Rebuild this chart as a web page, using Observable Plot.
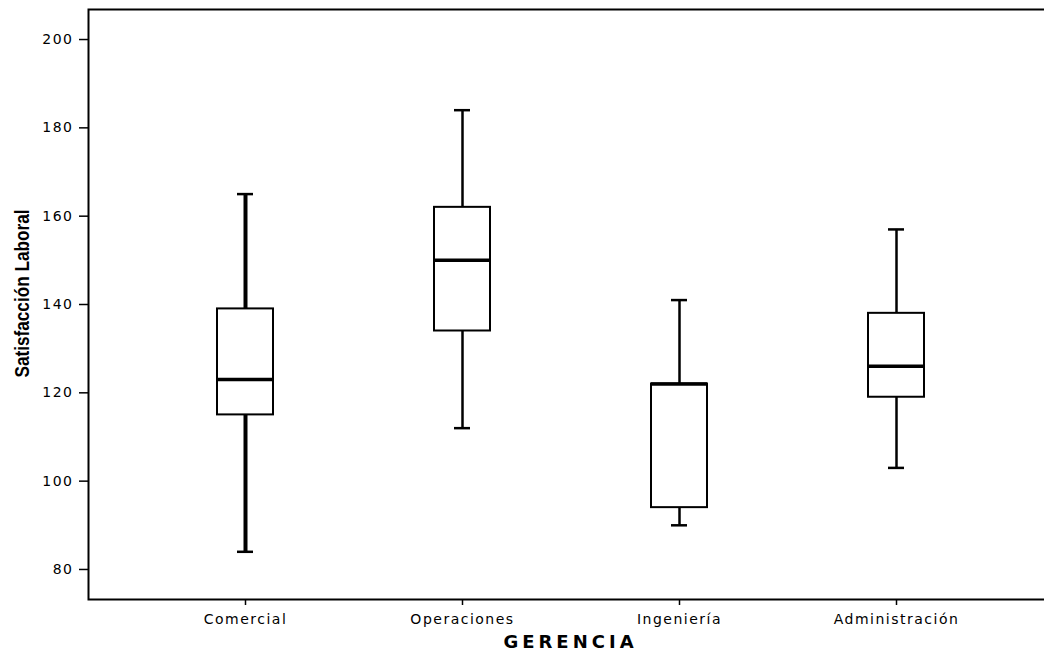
<!DOCTYPE html>
<html>
<head>
<meta charset="utf-8">
<script src="https://cdn.jsdelivr.net/npm/d3@7"></script>
<script src="https://cdn.jsdelivr.net/npm/@observablehq/plot@0.6"></script>
<style>
  html, body { margin: 0; padding: 0; background: #fff; overflow: hidden; width: 1044px; }
  #chart { width: 1044px; overflow: hidden; }
  #chart svg { display: block; max-width: none !important; overflow: hidden !important; }
</style>
</head>
<body>
<div id="chart"></div>
<script>
const categories = ["Comercial", "Operaciones", "Ingeniería", "Administración"];
const whiskerLow  = [84, 112, 90, 103];
const q1          = [115, 134, 94, 119];
const median      = [123, 150, 122, 126];
const q3          = [139, 162, 122, 138];
const whiskerHigh = [165, 184, 141, 157];
const yTicks = [80, 100, 120, 140, 160, 180, 200];

const rows = categories.map((c, i) => ({
  cat: c, lo: whiskerLow[i], q1: q1[i], med: median[i], q3: q3[i], hi: whiskerHigh[i]
}));

const font = "'DejaVu Sans', Arial, sans-serif";
const whiskerWidth = d => d.cat === "Comercial" ? 4 : 2.5;

const chart = Plot.plot({
  width: 1044,
  height: 654,
  marginLeft: 88,
  marginRight: -8,
  marginTop: 9,
  marginBottom: 55,
  style: { fontFamily: font, fontSize: "14px", color: "#000", background: "#fff", maxWidth: "none", letterSpacing: "1.5px", overflow: "hidden" },
  x: { type: "band", domain: categories, paddingInner: 0.743, paddingOuter: 0.583, label: null },
  y: { domain: [73.2, 206.8], label: null },
  marks: [
    Plot.ruleX(rows, { x: "cat", y1: "lo", y2: "q1", stroke: "#000", strokeWidth: whiskerWidth }),
    Plot.ruleX(rows, { x: "cat", y1: "q3", y2: "hi", stroke: "#000", strokeWidth: whiskerWidth }),
    Plot.tickY(rows, { x: "cat", y: "lo", stroke: "#000", strokeWidth: 2.5, insetLeft: 20, insetRight: 20 }),
    Plot.tickY(rows, { x: "cat", y: "hi", stroke: "#000", strokeWidth: 2.5, insetLeft: 20, insetRight: 20 }),
    Plot.barY(rows, { x: "cat", y1: "q1", y2: "q3", fill: "#fff", stroke: "#000", strokeWidth: 2 }),
    Plot.tickY(rows, { x: "cat", y: "med", stroke: "#000", strokeWidth: 3.5 }),
    Plot.axisY({ ticks: yTicks, tickSize: 9, tickPadding: 6, tickFormat: d => String(d), fontSize: 14, label: null, strokeWidth: 1.5 }),
    Plot.axisX({ tickSize: 6, tickPadding: 9, fontSize: 14, label: null, strokeWidth: 1.5 }),
    Plot.frame({ stroke: "#000", strokeWidth: 2, insetRight: -30 }),
    Plot.text([0], { frameAnchor: "left", dx: -66, dy: -11, rotate: -90, textAnchor: "middle", lineAnchor: "middle",
      text: () => "Satisfacción Laboral",
      fontSize: 20, fontWeight: "bold", fontFamily: "'Liberation Sans', Arial, sans-serif", fill: "#000" }),
    Plot.text([0], { frameAnchor: "bottom", dy: 43, lineAnchor: "middle", textAnchor: "middle", text: () => "GERENCIA",
      fontSize: 18, fontWeight: "bold", fill: "#000" })
  ]
});
document.getElementById("chart").appendChild(chart);
d3.select(chart).selectAll("text").filter(function() { return this.textContent === "Satisfacción Laboral"; })
  .style("letter-spacing", "0px")
  .attr("transform", function() { const t = this.getAttribute("transform") || ""; return t + " scale(0.86,1)"; });
d3.select(chart).selectAll("text").filter(function() { return this.textContent === "GERENCIA"; })
  .style("letter-spacing", "4px");
</script>
</body>
</html>
